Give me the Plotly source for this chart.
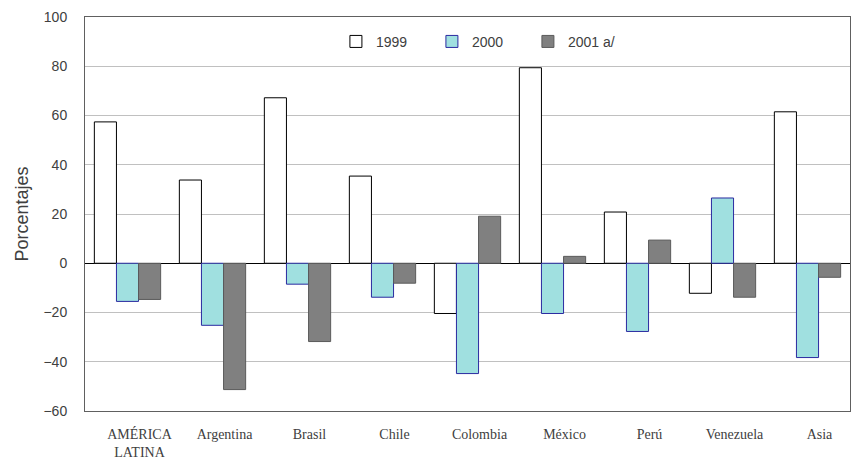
import plotly.graph_objects as go

categories = ["AMÉRICA<br>LATINA", "Argentina", "Brasil", "Chile", "Colombia",
              "México", "Perú", "Venezuela", "Asia"]
v1999 = [57.4, 33.8, 67.2, 35.4, -20.4, 79.4, 20.8, -12.2, 61.5]
v2000 = [-15.5, -25.2, -8.5, -13.8, -44.8, -20.4, -27.7, 26.5, -38.3]
v2001 = [-14.7, -51.3, -31.8, -8.1, 19.1, 2.8, 9.4, -13.8, -5.7]
series_names = ["1999", "2000", "2001 a/"]
y_ticks = [-60, -40, -20, 0, 20, 40, 60, 80, 100]

fig = go.Figure()
fig.add_trace(go.Bar(name=series_names[0], x=categories, y=v1999,
                     marker=dict(color="white", line=dict(color="#000000", width=1))))
fig.add_trace(go.Bar(name=series_names[1], x=categories, y=v2000,
                     marker=dict(color="#a0e0e0", line=dict(color="#2a2aa0", width=1))))
fig.add_trace(go.Bar(name=series_names[2], x=categories, y=v2001,
                     marker=dict(color="#808080", line=dict(color="#5a5a5a", width=1))))

fig.update_layout(
    width=853, height=460,
    margin=dict(l=77, r=11, t=9, b=57),
    paper_bgcolor="white", plot_bgcolor="white",
    barmode="group", bargap=0.22, bargroupgap=0,
    font=dict(family="Liberation Sans, Arial", color="#404040"),
    legend=dict(orientation="h", x=0.328, y=0.937, xanchor="left", yanchor="middle",
                font=dict(size=14, color="#404040"), entrywidth=51,
                bgcolor="rgba(0,0,0,0)", traceorder="normal"),
    showlegend=True,
)
fig.update_yaxes(range=[-60, 100], tickvals=y_ticks, showgrid=True, automargin=False,
                 gridcolor="#c0c0c0", gridwidth=1,
                 zeroline=True, zerolinecolor="#000000", zerolinewidth=1,
                 showline=True, linecolor="#606060", linewidth=1, mirror=True,
                 ticks="", ticklabelstandoff=14, tickfont=dict(size=14, color="#404040"),
                 title=dict(text="Porcentajes", font=dict(size=18, color="#404040"), standoff=10))
fig.update_xaxes(showline=True, linecolor="#606060", linewidth=1, mirror=True, automargin=False,
                 ticks="", ticklabelshift=12, ticklabelstandoff=10,
                 tickfont=dict(family="Liberation Serif, Times New Roman", size=14, color="#404040"),
                 tickangle=0)

fig.write_html("out.html")
